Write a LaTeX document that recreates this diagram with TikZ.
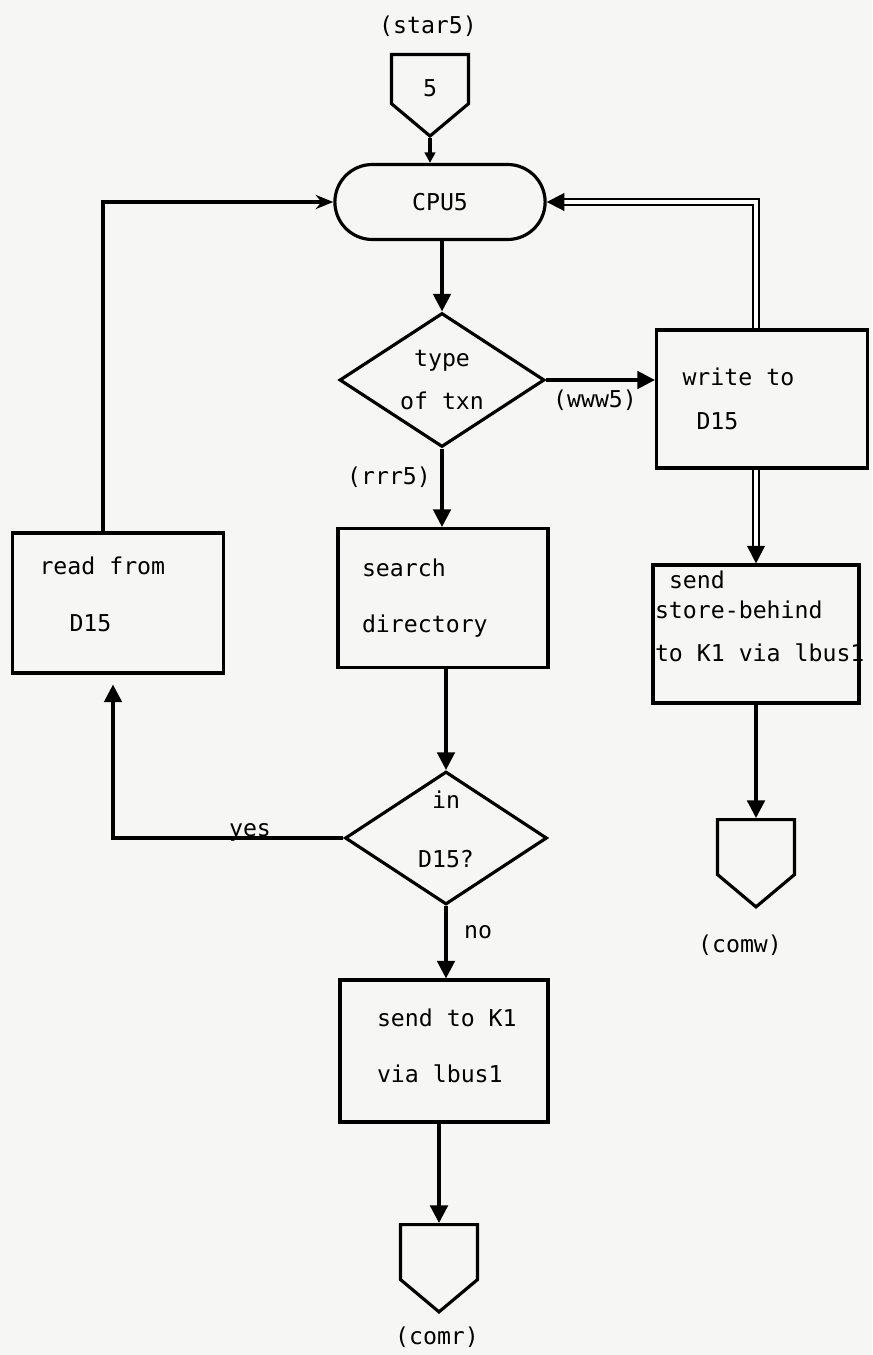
\documentclass[tikz,border=0pt]{standalone}
\usepackage{fontspec}
\setmainfont{DejaVu Sans Mono}[WordSpace={1,0,0}]
\usetikzlibrary{arrows.meta,calc,positioning,shapes.geometric,shapes.misc,shapes.symbols}
\definecolor{scanpaper}{rgb}{0.965,0.965,0.955}
\tikzset{
  offpage/.style={
    signal,
    signal to=south,
    signal from=nowhere,
    signal pointer angle=100,
    draw,
    line width=1.8pt,
    minimum width=1.54cm,
    minimum height=1.1cm,
    inner sep=0pt
  },
  terminal/.style={
    rounded rectangle,
    draw,
    line width=1.8pt,
    minimum width=4.44cm,
    minimum height=1.5cm
  },
  decision/.style={
    diamond,
    aspect=1.5,
    draw,
    line width=1.8pt,
    align=center,
    inner sep=0pt,
    execute at begin node={\spaceskip=.602em\relax}
  },
  proc/.style={
    rectangle,
    draw,
    line width=1.8pt,
    align=left,
    inner xsep=0pt,
    inner ysep=0pt,
    execute at begin node={\spaceskip=.602em\relax}
  },
  arrow/.style={
    -{Triangle[length=10pt,width=10pt]},
    line width=1.8pt
  },
  dblarrow/.style={
    -{Triangle[length=10pt,width=10pt]},
    double,
    double distance=1.8pt,
    line width=1.1pt
  }
}

\begin{document}
\begin{tikzpicture}[x=0.02cm,y=-0.02cm,font=\fontsize{13.2}{16}\selectfont]
\useasboundingbox (0,0) rectangle (872,1355);
\fill[scanpaper] (0,0) rectangle (872,1355);

% middle column
\node (star) at (428,26) {(star5)};
\node[offpage,anchor=north] (start) at (430,53) {\smash{\raisebox{-10pt}{5}}};
\node[terminal] (cpu) at (440,202) {CPU5};
\node[decision,minimum width=4.1cm,minimum height=2.68cm] (type) at (442,380) {type\\[8.4pt]of txn};
\node[proc,text width=4.2cm,minimum height=2.78cm] (search) at (443,598) {\hspace*{.48cm}search\\[16.3pt]\hspace*{.48cm}directory};
\node[decision,minimum width=4.04cm,minimum height=2.66cm] (in) at (446,838) {in\\[18pt]D15?\\[-6pt]\mbox{}};
\node[proc,text width=4.16cm,minimum height=2.84cm] (sendk) at (444,1051) {\hspace*{.74cm}send to K1\\[16.3pt]\hspace*{.74cm}via lbus1\\[-10pt]\mbox{}};
\node[offpage,anchor=north] (comr) at (439,1223) {};
\node (comrlab) at (437,1337) {(comr)};

% left column
\node[proc,text width=4.22cm,minimum height=2.8cm] (read) at (118,603) {\hspace*{.54cm}read from\\[16.3pt]\hspace*{1.14cm}D15\\[-6pt]\mbox{}};

% right column
\node[proc,text width=4.22cm,minimum height=2.76cm] (write) at (762,399) {\hspace*{.52cm}write to\\[8.9pt]\hspace*{.8cm}D15};
\node[proc,text width=4.12cm,minimum height=2.76cm] (sendst) at (756,634) {\hspace*{.32cm}send\\[1pt]\hspace*{.04cm}store-behind\\[8.4pt]\hspace*{.04cm}\mbox{to K1 via lbus1}\\[4pt]\mbox{}};
\node[offpage,anchor=north] (comw) at (756,818) {};
\node (comwlab) at (740,945) {(comw)};

% labels on the lines
\node (www) at (595,400) {(www5)};
\node (rrr) at (389,477) {(rrr5)};
\node (no) at (478,932) {no};
\node[anchor=base,inner sep=0pt] (yes) at (250,836) {yes};

% connectors
\draw[-{Triangle[length=6pt,width=6pt]},line width=1.8pt] (start.south) -- (start.south |- cpu.north);
\draw[arrow] (type.north |- cpu.south) -- (type.north);
\draw[arrow] (type.east) -- (type.east -| write.west);
\draw[arrow] (type.south) -- (type.south |- search.north);
\draw[arrow] (in.north |- search.south) -- (in.north);
\draw[arrow] (in.south) -- (in.south |- sendk.north);
\draw[arrow] (comr.north |- sendk.south) -- (comr.north);
\draw[arrow,shorten >=.2cm] (in.west) -| ($(read.south)+(-5,0)$);
\draw[-{Stealth[length=10pt,width=8pt]},line width=1.8pt] ($(read.north)+(-15,0)$) |- (cpu.west);
\draw[dblarrow] (sendst.north |- write.north) |- (cpu.east);
\draw[dblarrow] (sendst.north |- write.south) -- (sendst.north);
\draw[arrow] (sendst.south) -- (sendst.south |- comw.north);
\end{tikzpicture}
\end{document}
